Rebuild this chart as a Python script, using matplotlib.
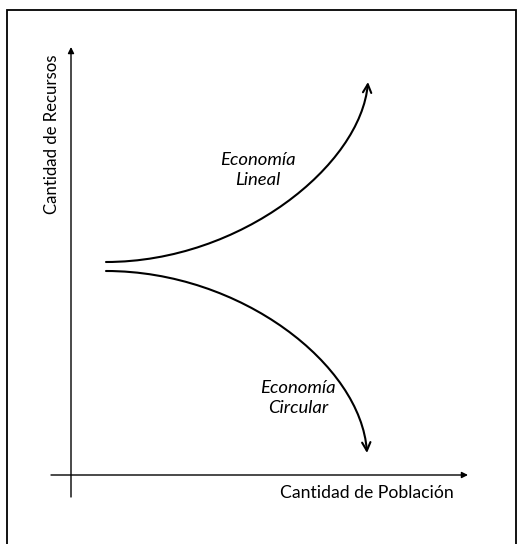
import matplotlib.pyplot as plt
from matplotlib.patches import FancyArrowPatch, Rectangle
from matplotlib.path import Path

# Conceptual curves (population vs resources).
# Each curve: start point, two bezier control points, end point.
lineal_x = [35, 170, 290, 297]
lineal_y = [213, 213, 310, 393]
circular_x = [35, 170, 290, 296]
circular_y = [204, 204, 110, 22]

label_lineal = "Economía\nLineal"
label_circular = "Economía\nCircular"
xlabel = "Cantidad de Población"
ylabel = "Cantidad de Recursos"

plt.rcParams['font.family'] = ['Lato', 'DejaVu Sans']

fig = plt.figure(figsize=(5.2, 5.44), dpi=100)
ax = fig.add_axes([0, 0, 1, 1])
ax.set_xlim(-71, 449)
ax.set_ylim(-69, 475)
ax.axis('off')

# outer frame
fig.patches.append(Rectangle((7 / 520, -0.02), 509 / 520, 0.02 + 534 / 544,
                             transform=fig.transFigure, fill=False,
                             edgecolor='black', linewidth=1.3))

# axes arrows
ax.annotate('', xy=(0, 428), xytext=(0, -22),
            arrowprops=dict(arrowstyle='-|>', lw=1.0, color='black',
                            mutation_scale=9, shrinkA=0, shrinkB=0))
ax.annotate('', xy=(397, 0), xytext=(-20, 0),
            arrowprops=dict(arrowstyle='-|>', lw=1.0, color='black',
                            mutation_scale=9, shrinkA=0, shrinkB=0))

codes = [Path.MOVETO, Path.CURVE4, Path.CURVE4, Path.CURVE4]
for xs, ys in [(lineal_x, lineal_y), (circular_x, circular_y)]:
    path = Path(list(zip(xs, ys)), codes)
    arrow = FancyArrowPatch(path=path, arrowstyle='->,head_length=0.5,head_width=0.25',
                            mutation_scale=12, lw=1.5, color='black',
                            shrinkA=0, shrinkB=0)
    ax.add_patch(arrow)

ax.text(187, 305, label_lineal, style='italic', fontsize=13.3,
        ha='center', va='center', linespacing=1.35)
ax.text(227, 77, label_circular, style='italic', fontsize=13.3,
        ha='center', va='center', linespacing=1.35)
ax.text(296, -18, xlabel, fontsize=12.7, ha='center', va='center')
ax.text(-19, 341, ylabel, fontsize=12.1, ha='center', va='center', rotation=90)

fig.savefig('out.png', dpi=100)
